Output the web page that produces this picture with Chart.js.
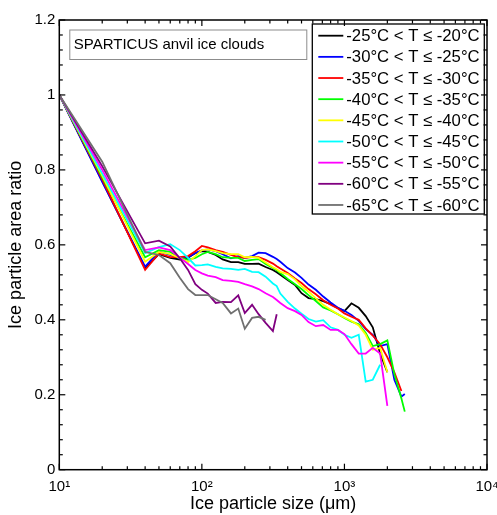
<!DOCTYPE html>
<html>
<head>
<meta charset="utf-8">
<script src="https://cdn.jsdelivr.net/npm/chart.js@4.4.0/dist/chart.umd.min.js"></script>
<style>
  html, body { margin: 0; padding: 0; background: #fff; }
</style>
</head>
<body>
<canvas id="chart" width="497" height="515"></canvas>
<script>
// particle size bins (um)
const sizes = [10, 20, 40, 50, 60, 70, 80, 90, 100, 110, 125, 140, 160, 180, 200, 225, 250, 280, 315, 335, 355,
  400, 450, 500, 560, 630, 710, 800, 900, 1000, 1120, 1260, 1410, 1580, 1780, 2000, 2240, 2510, 2650];

// area ratio per temperature range (null = no data)
const ratioM20 = [1.0, 0.77, 0.538, 0.575, 0.565, 0.561, 0.566, 0.578, 0.583, 0.581, 0.573, 0.561, 0.554, 0.554, 0.549, 0.549, 0.55, 0.541, 0.533, 0.527, 0.52,
  0.506, 0.493, 0.471, 0.458, 0.455, 0.45, 0.442, 0.431, 0.423, 0.444, 0.432, 0.41, 0.38, 0.31, 0.26, null, null, null];
const ratioM25 = [1.0, 0.768, 0.542, 0.582, 0.573, 0.564, 0.567, 0.578, 0.585, 0.588, 0.583, 0.575, 0.564, 0.57, 0.565, 0.57, 0.579, 0.578, 0.568, 0.562, 0.555,
  0.538, 0.526, 0.512, 0.494, 0.48, 0.462, 0.446, 0.432, 0.424, 0.413, 0.397, 0.375, 0.36, 0.33, 0.335, 0.24, 0.195, 0.202];
const ratioM30 = [1.0, 0.775, 0.533, 0.577, 0.567, 0.567, 0.57, 0.583, 0.597, 0.593, 0.586, 0.581, 0.573, 0.567, 0.565, 0.567, 0.567, 0.56, 0.55, 0.543, 0.537,
  0.525, 0.51, 0.498, 0.482, 0.468, 0.452, 0.44, 0.43, 0.417, 0.408, 0.4, 0.377, 0.358, 0.335, 0.3, 0.26, 0.21, null];
const ratioM35 = [1.0, 0.78, 0.567, 0.586, 0.581, 0.565, 0.56, 0.565, 0.575, 0.581, 0.575, 0.567, 0.565, 0.565, 0.557, 0.56, 0.562, 0.549, 0.538, 0.532, 0.525,
  0.509, 0.495, 0.482, 0.466, 0.45, 0.433, 0.425, 0.415, 0.405, 0.395, 0.388, 0.365, 0.33, 0.335, 0.345, 0.255, 0.19, 0.155];
const ratioM40 = [1.0, 0.785, 0.555, 0.581, 0.575, 0.565, 0.554, 0.57, 0.586, 0.588, 0.583, 0.578, 0.575, 0.575, 0.567, 0.568, 0.565, 0.553, 0.54, 0.535, 0.528,
  0.522, 0.508, 0.49, 0.475, 0.457, 0.44, 0.427, 0.415, 0.406, 0.397, 0.385, 0.36, 0.32, 0.325, 0.26, null, null, null];
const ratioM45 = [1.0, 0.79, 0.578, 0.594, 0.602, 0.586, 0.565, 0.545, 0.546, 0.548, 0.541, 0.537, 0.536, 0.533, 0.536, 0.528, 0.527, 0.515, 0.497, 0.49, 0.47,
  0.448, 0.43, 0.416, 0.402, 0.395, 0.399, 0.38, 0.373, 0.36, 0.352, 0.36, 0.235, 0.24, 0.28, null, null, null, null];
const ratioM50 = [1.0, 0.8, 0.586, 0.593, 0.586, 0.566, 0.549, 0.533, 0.524, 0.518, 0.514, 0.506, 0.504, 0.501, 0.495, 0.489, 0.482, 0.471, 0.461, 0.453, 0.445,
  0.431, 0.423, 0.413, 0.394, 0.383, 0.386, 0.373, 0.373, 0.362, 0.335, 0.31, 0.31, 0.325, 0.31, 0.17, null, null, null];
const ratioM55 = [1.0, 0.81, 0.604, 0.611, 0.596, 0.564, 0.533, 0.495, 0.48, 0.47, 0.445, 0.448, 0.447, 0.465, 0.418, 0.44, 0.415, 0.392, 0.37, 0.415, null,
  null, null, null, null, null, null, null, null, null, null, null, null, null, null, null, null, null, null];
const ratioM60 = [1.0, 0.822, 0.581, 0.573, 0.551, 0.512, 0.482, 0.466, 0.466, 0.466, 0.455, 0.445, 0.417, 0.43, 0.376, 0.405, 0.408, 0.4, null, null, null,
  null, null, null, null, null, null, null, null, null, null, null, null, null, null, null, null, null, null];

const seriesLabels = [
  "-25°C < T ≤ -20°C", "-30°C < T ≤ -25°C", "-35°C < T ≤ -30°C",
  "-40°C < T ≤ -35°C", "-45°C < T ≤ -40°C", "-50°C < T ≤ -45°C",
  "-55°C < T ≤ -50°C", "-60°C < T ≤ -55°C", "-65°C < T ≤ -60°C"
];
const seriesColors = ["#000000", "#0000ff", "#ff0000", "#00ff00", "#ffff00", "#00ffff", "#ff00ff", "#800080", "#707070"];
const seriesRatios = [ratioM20, ratioM25, ratioM30, ratioM35, ratioM40, ratioM45, ratioM50, ratioM55, ratioM60];

const xTickValues = [10, 100, 1000, 10000];
const xTickLabels = ["10¹", "10²", "10³", "10⁴"];
const boxTitle = "SPARTICUS anvil ice clouds";

const FONT = 'Arial, "Liberation Sans", sans-serif';
Chart.defaults.font.family = FONT;
Chart.defaults.color = "#000";

const datasets = seriesRatios.map((arr, i) => ({
  label: seriesLabels[i],
  data: sizes.map((s, j) => ({ x: s, y: arr[j] })).filter((p) => p.y !== null),
  borderColor: seriesColors[i],
  borderWidth: 1.8,
  pointRadius: 0,
  fill: false,
  tension: 0,
  order: seriesRatios.length - i // later series drawn on top
}));

// frame with inward ticks, text box and legend box (matlab look)
const frameAndLegend = {
  id: "frameAndLegend",
  afterDatasetsDraw(chart) {
    const { ctx, chartArea: a, scales } = chart;
    const x = scales.x, y = scales.y;
    ctx.save();

    // text box top left
    const bx = a.left + 10, by = a.top + 9.5, bw = 237, bh = 29.5;
    ctx.fillStyle = "#fff";
    ctx.fillRect(bx, by, bw, bh);
    ctx.strokeStyle = "#8c8c8c";
    ctx.lineWidth = 1;
    ctx.strokeRect(bx + 0.5, by + 0.5, bw, bh);
    ctx.fillStyle = "#000";
    ctx.font = "15px " + FONT;
    ctx.textBaseline = "middle";
    ctx.textAlign = "left";
    ctx.fillText(boxTitle, bx + 4.5, by + bh / 2 + 1);

    // legend box top right
    const lw = 172, lh = 190;
    const lx = a.right - 2.7 - lw, ly = a.top + 4;
    ctx.fillStyle = "#fff";
    ctx.fillRect(lx, ly, lw, lh);
    ctx.strokeStyle = "#000";
    ctx.lineWidth = 1.3;
    ctx.strokeRect(lx, ly, lw, lh);
    chart.data.datasets.forEach((ds, i) => {
      const ry = ly + 11.7 + i * 21.16;
      ctx.strokeStyle = ds.borderColor;
      ctx.lineWidth = 1.8;
      ctx.beginPath();
      ctx.moveTo(lx + 6, ry);
      ctx.lineTo(lx + 31, ry);
      ctx.stroke();
      ctx.fillStyle = "#000";
      ctx.font = "16.7px " + FONT;
      ctx.fillText(ds.label, lx + 34, ry + 1);
    });

    // axes frame
    ctx.strokeStyle = "#000";
    ctx.lineWidth = 1.5;
    ctx.strokeRect(a.left, a.top, a.right - a.left, a.bottom - a.top);

    ctx.lineWidth = 1.2;
    const tick = (x1, y1, x2, y2) => {
      ctx.beginPath();
      ctx.moveTo(x1, y1);
      ctx.lineTo(x2, y2);
      ctx.stroke();
    };
    // x ticks (log)
    for (let d = 10; d <= 10000; d *= 10) {
      for (let k = 1; k <= 9; k++) {
        const v = d * k;
        if (v > 10000) break;
        const px = x.getPixelForValue(v);
        const len = k === 1 ? 6 : 3.5;
        tick(px, a.bottom, px, a.bottom - len);
        tick(px, a.top, px, a.top + len);
      }
    }
    // y ticks
    for (let i = 0; i <= 30; i++) {
      const v = i * 0.04;
      const py = y.getPixelForValue(v);
      const len = i % 5 === 0 ? 6 : 3.5;
      tick(a.left, py, a.left + len, py);
      tick(a.right, py, a.right - len, py);
    }
    ctx.restore();
  }
};

new Chart(document.getElementById("chart"), {
  type: "line",
  data: { datasets },
  options: {
    responsive: false,
    animation: false,
    layout: { padding: { top: 20, right: 10, left: 0, bottom: 0 }, autoPadding: false },
    plugins: { legend: { display: false }, tooltip: { enabled: false } },
    scales: {
      x: {
        type: "logarithmic",
        min: 10,
        max: 10000,
        grid: { display: false, drawTicks: false },
        border: { display: false },
        afterBuildTicks: (s) => { s.ticks = xTickValues.map((v) => ({ value: v })); },
        afterFit: (s) => { s.height = 45.3; s.paddingLeft = 0; s.paddingRight = 0; },
        ticks: {
          autoSkip: false,
          maxRotation: 0,
          padding: 8,
          font: { size: 15 },
          callback: (v) => xTickLabels[xTickValues.indexOf(v)] || ""
        },
        title: { display: true, text: "Ice particle size (μm)", font: { size: 18 }, padding: { top: 0, bottom: 0 } }
      },
      y: {
        min: 0,
        max: 1.2,
        grid: { display: false, drawTicks: false },
        border: { display: false },
        afterFit: (s) => { s.width = 59.3; s.paddingTop = 0; s.paddingBottom = 0; },
        ticks: {
          stepSize: 0.2,
          padding: 4,
          font: { size: 15 },
          callback: (v) => String(+v.toFixed(1))
        },
        title: { display: true, text: "Ice particle area ratio", font: { size: 18 }, padding: { top: 5, bottom: 0 } }
      }
    }
  },
  plugins: [frameAndLegend]
});
</script>
</body>
</html>
